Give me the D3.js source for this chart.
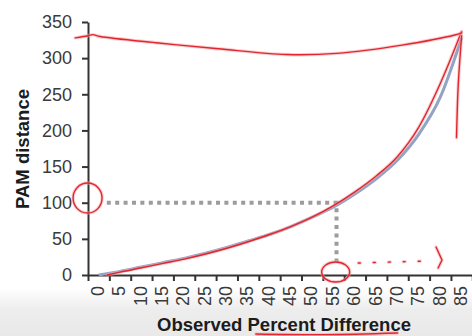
<!DOCTYPE html>
<html>
<head>
<meta charset="utf-8">
<script src="https://cdn.jsdelivr.net/npm/d3@7"></script>
<style>
  html, body { margin: 0; padding: 0; background: #fff; }
  svg { display: block; }
</style>
</head>
<body>
<svg id="chart" width="472" height="336"></svg>
<script>
// ---- data ----
const categories = ["0","5","10","15","20","25","30","35","40","45","50","55","60","65","70","75","80","85"];
const pamValues  = [0, 5, 11, 17, 23, 30, 38, 47, 56, 67, 80, 94, 112, 133, 159, 195, 246, 328];
const yTicks     = [0, 50, 100, 150, 200, 250, 300, 350];
const xTitle = "Observed Percent Difference";
const yTitle = "PAM distance";

// reference guide (dotted): 100 PAM ~ 55% difference
const guidePoints = [[1.9, 100], [55.7, 100], [55.7, 18]];

// hand-drawn red annotations, in (percent, PAM) data space
const redTrace = [[2,0],[5,4],[10,10],[15,16],[20,22],[25,29],[30,37],[35,46],[40,56],[45,67],[50,80],[55,96],[60,115],[65,137],[70,164],[75,205],[80,265],[85,337]];
const redTop   = [[-5.5,328],[-2.5,331],[-1.4,332.5],[0.3,330],[14,321],[28,313],[44,305],[55.7,306.6],[71,318],[83.4,332],[85,335]];
const redDrop  = [[85,331],[84.2,262],[83.8,190]];
const redArrowDashes = [[60.8,16.6],[76.9,19.4]];
const redArrowHead   = [[79.0,38.7],[80.4,20.7],[79.5,9.7]];
const redUnderline   = [[36.8,-81.6],[53,-82.5],[70,-80.2]];
const redCircles     = [{p:-2.6, v:106.5, rx:14.5, ry:15}, {p:55.5, v:4.1, rx:14, ry:10}];

// ---- layout ----
const W = 472, H = 336;
const x0 = 88, band = 21.35, yBottom = 275, yTop = 22;
const svg = d3.select("#chart");
const font = "'Liberation Sans', Arial, Helvetica, sans-serif";

// bottom greyish band (screenshot background)
const defs = svg.append("defs");
const grad = defs.append("linearGradient").attr("id","bg").attr("x1",0).attr("y1",0).attr("x2",0).attr("y2",1);
grad.append("stop").attr("offset","0%").attr("stop-color","#ffffff");
grad.append("stop").attr("offset","45%").attr("stop-color","#ededed");
grad.append("stop").attr("offset","100%").attr("stop-color","#e9e9e9");
svg.append("rect").attr("x",0).attr("y",288).attr("width",W).attr("height",H-288).attr("fill","url(#bg)");

const x = d3.scaleBand().domain(categories).range([x0, x0 + categories.length*band]).padding(0);
const xp = d3.scaleLinear().domain([-2.5, 87.5]).range([x0, x0 + categories.length*band]);
const xIdx = d3.scaleLinear().domain([0, categories.length]).range([x0, x0 + categories.length*band]);
const y = d3.scaleLinear().domain([0, 350]).range([yBottom, yTop]);

// ---- axes ----
const axisColor = "#333";
const yAxis = svg.append("g").attr("transform", `translate(${x0},0)`)
  .call(d3.axisLeft(y).tickValues(yTicks).tickSize(6).tickPadding(10).tickSizeOuter(0));
yAxis.select(".domain").attr("stroke", axisColor).attr("stroke-width", 2);
yAxis.selectAll(".tick line").attr("stroke", axisColor).attr("stroke-width", 2);
yAxis.selectAll(".tick text").attr("font-family", font).attr("font-size", 18).attr("fill", "#3a3a3a");

// x tick marks (between categories)
const xTickAxis = svg.append("g").attr("transform", `translate(0,${yBottom})`)
  .call(d3.axisBottom(xIdx).tickValues(d3.range(categories.length+1)).tickFormat("").tickSize(6).tickSizeOuter(0));
xTickAxis.select(".domain").attr("stroke", axisColor).attr("stroke-width", 2);
xTickAxis.selectAll(".tick line").attr("stroke", axisColor).attr("stroke-width", 2);

// x labels (category centres, rotated)
const xAxis = svg.append("g").attr("transform", `translate(0,${yBottom})`)
  .call(d3.axisBottom(x).tickSize(0).tickSizeOuter(0));
xAxis.select(".domain").remove();
xAxis.selectAll(".tick text")
  .attr("font-family", font).attr("font-size", 18).attr("fill", "#3a3a3a")
  .attr("transform", "rotate(-90)")
  .attr("text-anchor", "end")
  .attr("x", -11).attr("y", -1).attr("dy", "0.35em");

// titles
svg.append("text").attr("x", 284).attr("y", 331)
  .attr("text-anchor", "middle").attr("font-family", font).attr("font-weight", "bold")
  .attr("font-size", 18.5).attr("fill", "#1c1c1c").text(xTitle);
svg.append("text").attr("transform", "translate(28.5,149) rotate(-90)")
  .attr("text-anchor", "middle").attr("font-family", font).attr("font-weight", "bold")
  .attr("font-size", 18.5).attr("fill", "#1c1c1c").text(yTitle);

// dotted guide
const pline = d3.line().x(d => xp(d[0])).y(d => y(d[1]));
svg.append("path").attr("d", pline(guidePoints)).attr("fill","none")
  .attr("stroke","#9c9c9c").attr("stroke-width",4).attr("stroke-dasharray","4,4.4");

// data line
const dataLine = d3.line()
  .x((d,i) => x(categories[i]) + x.bandwidth()/2)
  .y(d => y(d))
  .curve(d3.curveMonotoneX);
svg.append("path").datum(pamValues).attr("d", dataLine).attr("fill","none")
  .attr("stroke","#93a3c4").attr("stroke-width",3);

// red annotations
function redPath(pts, curve, dash) {
  const l = d3.line().x(d => xp(d[0])).y(d => y(d[1])).curve(curve || d3.curveLinear);
  svg.append("path").attr("d", l(pts)).attr("fill","none")
    .attr("stroke","#f3a7a9").attr("stroke-width",3.4).attr("stroke-opacity",0.55)
    .attr("stroke-linecap","round").attr("stroke-dasharray", dash || null);
  svg.append("path").attr("d", l(pts)).attr("fill","none")
    .attr("stroke","#e2252e").attr("stroke-width",1.4)
    .attr("stroke-linecap","round").attr("stroke-dasharray", dash || null);
}
redPath(redTrace, d3.curveMonotoneX);
redPath(redTop, d3.curveCatmullRom);
redPath(redDrop, d3.curveCatmullRom);
redPath(redArrowDashes, d3.curveLinear, "2,13");
redPath(redArrowHead, d3.curveLinear);
redPath(redUnderline, d3.curveCatmullRom);
redCircles.forEach(c => {
  svg.append("ellipse").attr("cx", xp(c.p)).attr("cy", y(c.v)).attr("rx", c.rx).attr("ry", c.ry)
    .attr("fill","none").attr("stroke","#f3a7a9").attr("stroke-width",3.4).attr("stroke-opacity",0.55);
  svg.append("ellipse").attr("cx", xp(c.p)).attr("cy", y(c.v)).attr("rx", c.rx).attr("ry", c.ry)
    .attr("fill","none").attr("stroke","#e2252e").attr("stroke-width",1.4);
});
</script>
</body>
</html>
